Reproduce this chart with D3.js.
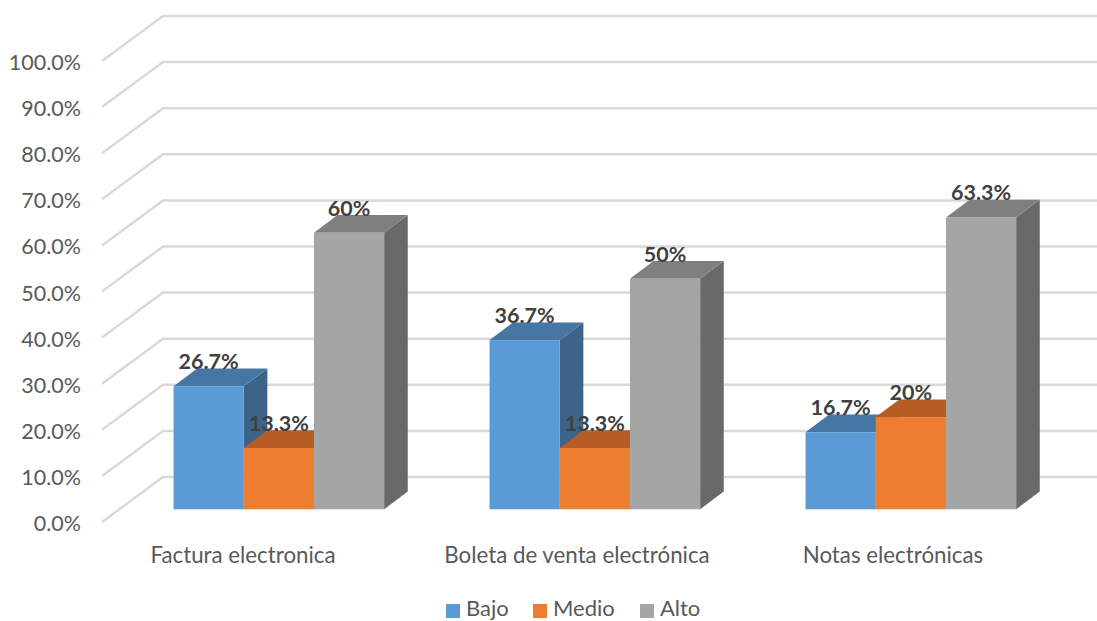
<!DOCTYPE html>
<html><head><meta charset="utf-8">
<script src="https://cdnjs.cloudflare.com/ajax/libs/d3/7.8.5/d3.min.js"></script>
<style>html,body{margin:0;padding:0;background:#fff}svg{display:block}text{font-family:Lato,"Open Sans",sans-serif}</style>
</head><body><svg id="c" width="1097" height="621"></svg>
<script>
const categories=["Factura electronica","Boleta de venta electrónica","Notas electrónicas"];
const seriesNames=["Bajo","Medio","Alto"];
const bajo=[26.7,36.7,16.7];
const medio=[13.3,13.3,20];
const alto=[60,50,63.3];
const labelsBajo=["26.7%","36.7%","16.7%"];
const labelsMedio=["13.3%","13.3%","20%"];
const labelsAlto=["60%","50%","63.3%"];
const yTicks=[0,10,20,30,40,50,60,70,80,90,100];
const colors=["#5B9BD5","#ED7D31","#A5A5A5"];
const topColors=["#4676A3","#B55D23","#7F7F7F"];
const sideColors=["#3C6488","#9A4F1E","#696969"];

const svg=d3.select("#c");
const y=d3.scaleLinear().domain([0,100]).range([522,61]);
const x0=d3.scaleBand().domain(categories).range([102,1050]).paddingInner(0).paddingOuter(0);
const bw=70.2, groupW=bw*3;
const groupX=c=>x0(c)+(x0.bandwidth()-groupW)/2+18.85;
const x1=d3.scaleBand().domain(seriesNames).range([0,groupW]);
const floorDx=61, floorDy=45;
const barDx=23.6, barDy=17.7, baseUp=12.7;

const grid=svg.append("g").attr("fill","none").attr("stroke","#D9D9D9").attr("stroke-width",2.5);
yTicks.forEach(t=>{
  grid.append("path").attr("d",d3.line()([[102,y(t)],[102+floorDx,y(t)-floorDy],[1097,y(t)-floorDy]]));
});

svg.append("g").selectAll("text").data(yTicks).join("text")
  .attr("x",81).attr("y",t=>y(t)+9).attr("text-anchor","end")
  .attr("font-size",21.5).attr("fill","#595959").text(t=>t.toFixed(1)+"%");

const allSeries=[bajo,medio,alto];
const allLabels=[labelsBajo,labelsMedio,labelsAlto];
const bars=svg.append("g");
categories.forEach((c,ci)=>{
  const gx=groupX(c);
  allSeries.forEach((vals,si)=>{
    const v=vals[ci];
    const l=gx+x1(seriesNames[si]), r=l+x1.bandwidth();
    const b=y(0)-baseUp, t=y(v)-baseUp;
    const g=bars.append("g");
    g.append("path").attr("fill",sideColors[si]).attr("d",d3.line()([[r,b],[r+barDx,b-barDy],[r+barDx,t-barDy],[r,t]])+"Z");
    g.append("path").attr("fill",topColors[si]).attr("d",d3.line()([[l,t],[l+barDx,t-barDy],[r+barDx,t-barDy],[r,t]])+"Z");
    g.append("rect").attr("x",l).attr("y",t).attr("width",r-l).attr("height",b-t).attr("fill",colors[si]);
  });
});
const lab=svg.append("g");
categories.forEach((c,ci)=>{
  const gx=groupX(c);
  allSeries.forEach((vals,si)=>{
    const cx=gx+x1(seriesNames[si])+bw/2;
    lab.append("text").attr("x",cx).attr("y",y(vals[ci])-baseUp-17)
      .attr("text-anchor","middle").attr("font-size",21.5).attr("font-weight",700)
      .attr("fill","#404040").text(allLabels[si][ci]);
  });
});
const catX=[243,577,893];
svg.append("g").selectAll("text").data(categories).join("text")
  .attr("x",(d,i)=>catX[i]).attr("y",563).attr("text-anchor","middle")
  .attr("font-size",22.3).attr("fill","#595959").text(d=>d);
const legX=[446,533,640];
const leg=svg.append("g");
seriesNames.forEach((n,i)=>{
  leg.append("rect").attr("x",legX[i]).attr("y",604).attr("width",14).attr("height",14).attr("fill",colors[i]);
  leg.append("text").attr("x",legX[i]+20).attr("y",616).attr("font-size",22).attr("fill","#595959").text(n);
});
</script></body></html>
